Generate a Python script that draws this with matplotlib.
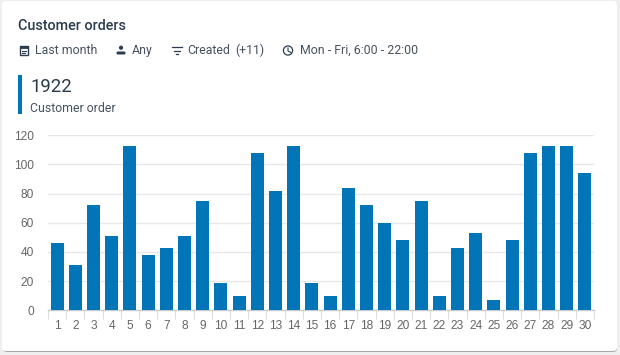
import matplotlib
matplotlib.use('Agg')
import matplotlib.pyplot as plt
from matplotlib.patches import FancyBboxPatch, Rectangle, Circle

days = list(range(1, 31))
orders = [46, 31, 72, 51, 113, 38, 43, 51, 75, 19, 10, 108, 82, 113, 19,
          10, 84, 72, 60, 48, 75, 10, 43, 53, 7, 48, 108, 113, 113, 94]
y_ticks = [0, 20, 40, 60, 80, 100, 120]
title = 'Customer orders'
total = '1922'
subtitle = 'Customer order'

blue = '#0175b8'
dark = '#2b3c4e'
grey = '#46535f'

plt.rcParams['font.family'] = ['Roboto', 'DejaVu Sans']

fig = plt.figure(figsize=(6.2, 3.55), dpi=100, facecolor='#efefef')

# overlay in pixel coordinates for the card and header
bg = fig.add_axes([0, 0, 1, 1])
bg.set_xlim(0, 620)
bg.set_ylim(355, 0)
bg.axis('off')

bg.add_patch(FancyBboxPatch((3, 3), 614, 349, boxstyle='round,pad=0,rounding_size=4',
                            fc='#a8a8a8', ec='none'))
bg.add_patch(FancyBboxPatch((2, 1), 615, 350, boxstyle='round,pad=0,rounding_size=4',
                            fc='white', ec='none'))

bg.text(17.5, 26, title, fontsize=10.4, color=dark, weight='medium', va='center')

bg.text(35, 50.5, 'Last month', fontsize=8.9, color=grey, va='center')
bg.text(132, 50.5, 'Any', fontsize=8.9, color=grey, va='center')
bg.text(187, 50.5, 'Created', fontsize=8.9, color=grey, va='center')
bg.text(235.5, 50.5, '(+11)', fontsize=8.9, color=grey, va='center')
bg.text(300, 50.5, 'Mon - Fri, 6:00 - 22:00', fontsize=8.9, color=grey, va='center')

# calendar icon
bg.add_patch(Rectangle((19.5, 46), 8, 9, fc='none', ec=dark, lw=1.0))
bg.add_patch(Rectangle((19.5, 46), 8, 2.2, fc=dark, ec=dark, lw=0.6))
bg.plot([21.5, 25.5], [50.5, 50.5], color=dark, lw=0.8)
bg.plot([21.5, 24.5], [52.7, 52.7], color=dark, lw=0.8)
# person icon
bg.add_patch(Circle((121, 47.7), 2.1, fc=dark, ec='none'))
bg.add_patch(FancyBboxPatch((116.5, 51.5), 9, 3, boxstyle='round,pad=0,rounding_size=1.4',
                            fc=dark, ec='none'))
# filter icon
bg.plot([171.5, 181.5], [47, 47], color=dark, lw=0.9)
bg.plot([173.5, 179.5], [50.5, 50.5], color=dark, lw=0.9)
bg.plot([175.5, 177.5], [54, 54], color=dark, lw=0.9)
# clock icon
bg.add_patch(Circle((288, 50.5), 4.6, fc='none', ec=dark, lw=0.9))
bg.plot([288, 288, 291], [47.8, 51, 52.6], color=dark, lw=0.8)

bg.add_patch(Rectangle((18, 75), 3.5, 38.5, fc=blue, ec='none'))
bg.text(30, 86.5, total, fontsize=13.4, color=dark, va='center')
bg.text(30, 108, subtitle, fontsize=8.8, color=grey, va='center')

# chart
ax = fig.add_axes([48 / 620, 1 - 310.3 / 355, 546 / 620, 175 / 355])
ax.patch.set_alpha(0)
ax.bar(days, orders, width=0.72, color=blue, zorder=3)
ax.set_xlim(0.5, 30.5)
ax.set_ylim(0, 120)
ax.set_yticks(y_ticks)
ax.grid(axis='y', color='#e8e8e8', lw=1, zorder=0)
ax.set_axisbelow(True)
for s in ['top', 'right', 'left']:
    ax.spines[s].set_visible(False)
ax.spines['bottom'].set_color('#c8ccd0')
ax.spines['bottom'].set_linewidth(1)

ax.set_xticks([d + 0.5 for d in [0] + days])
ax.set_xticklabels([])
ax.tick_params(axis='x', which='major', length=6.2, color='#dcdfe2', width=0.8)
ax.set_xticks(days, minor=True)
ax.set_xticklabels(days, minor=True, family='Liberation Sans')
ax.tick_params(axis='x', which='minor', length=0, pad=7, labelsize=8.6, labelcolor='#666666')
ax.tick_params(axis='y', length=0, pad=10, labelsize=8.6, labelcolor='#666666')
for t in ax.get_yticklabels():
    t.set_family('Liberation Sans')

fig.savefig('out.png', dpi=100, facecolor=fig.get_facecolor())
